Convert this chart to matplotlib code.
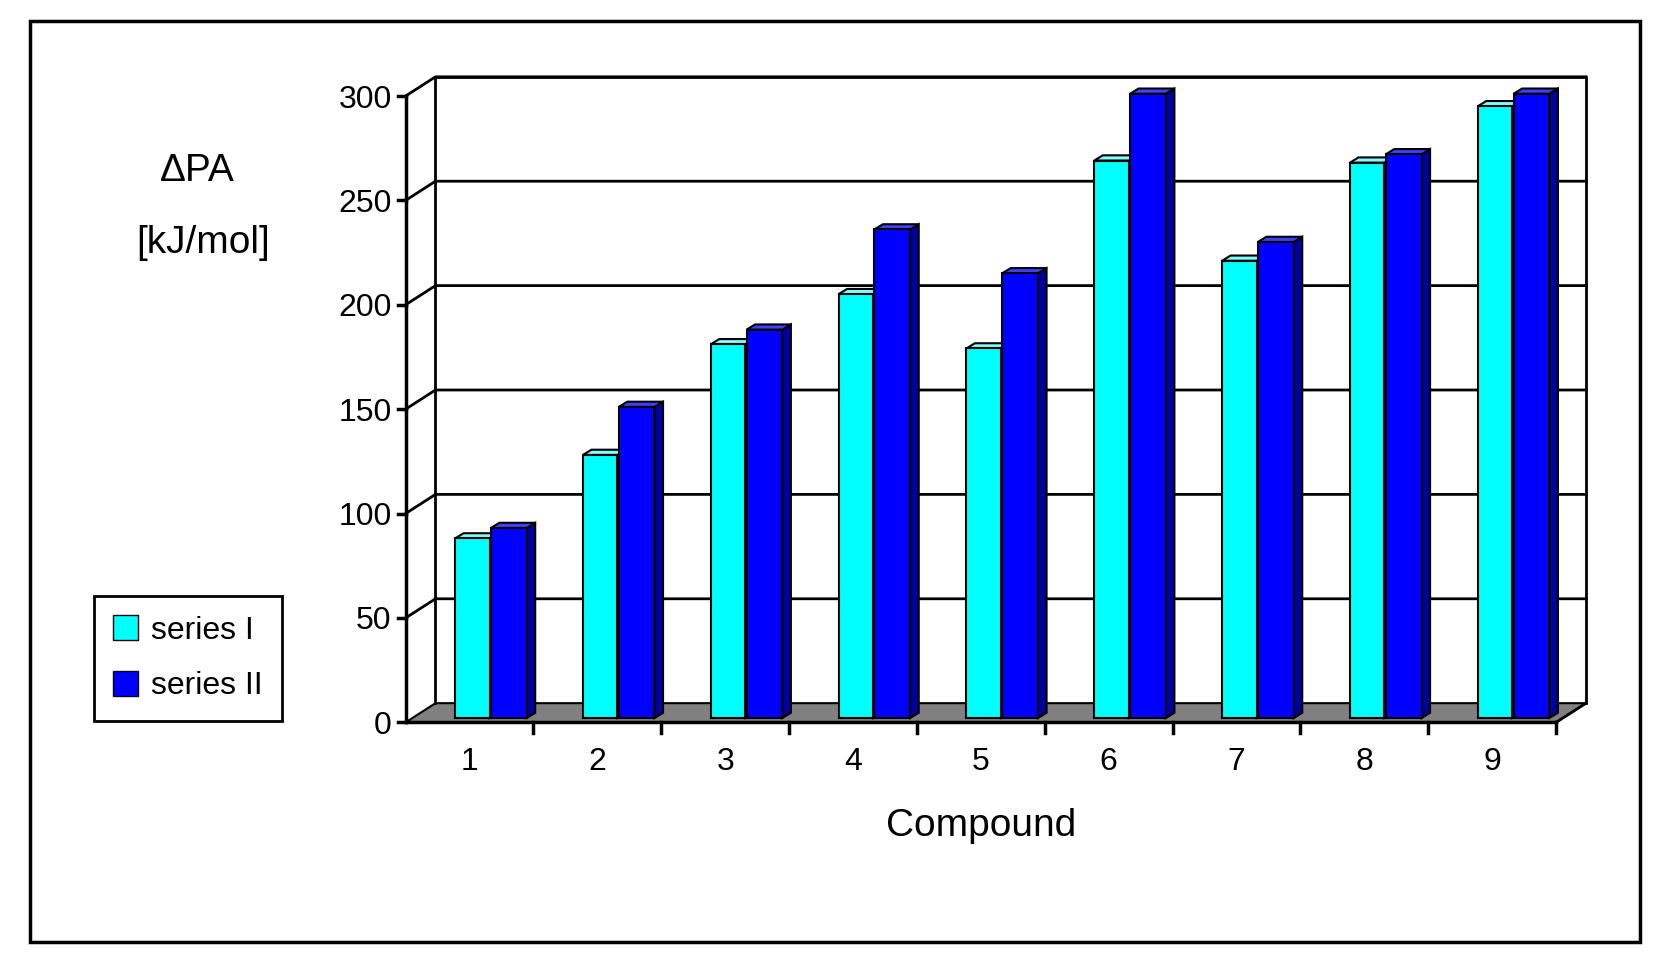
import matplotlib.pyplot as plt
from matplotlib.patches import Polygon, Rectangle, Patch

plt.rcParams['font.family'] = ['Liberation Sans', 'DejaVu Sans']

compounds = ['1', '2', '3', '4', '5', '6', '7', '8', '9']
series_1 = [86, 126, 179, 203, 177, 267, 219, 266, 293]
series_2 = [91, 149, 186, 234, 213, 299, 228, 270, 299]
yticks = [0, 50, 100, 150, 200, 250, 300]

# layout measured on a 1560x910 grid
W, H = 1560, 910
fig = plt.figure(figsize=(16.65, 9.71), dpi=100)
fig.add_artist(Rectangle((28 / W, 1 - 883 / H), 1509 / W, 863 / H, transform=fig.transFigure,
                         fill=False, lw=2.5, ec='black'))

ax = fig.add_axes([380 / W, (H - 677) / H, 1078 / W, 587 / H])
ax.set_xlim(0.5, 9.5)
ax.set_ylim(0, 300)
for s in ax.spines.values():
    s.set_visible(False)

dx, dy = 0.234, 9.2  # depth of the box in data units

def poly(pts, fc, ec='black', lw=1.5, z=2):
    ax.add_patch(Polygon(pts, closed=True, fc=fc, ec=ec, lw=lw, clip_on=False, zorder=z))

# floor and walls
poly([(0.5, 0), (9.5, 0), (9.5 + dx, dy), (0.5 + dx, dy)], '#808080', z=1)
ax.plot([0.5 + dx, 0.5 + dx, 9.5 + dx, 9.5 + dx], [dy, 300 + dy, 300 + dy, dy],
        color='black', lw=2, clip_on=False, zorder=1)
for v in yticks[1:]:
    ax.plot([0.5, 0.5 + dx, 9.5 + dx], [v, v + dy, v + dy], color='black', lw=2,
            clip_on=False, zorder=1)
ax.plot([9.5, 9.5 + dx], [0, dy], color='black', lw=2, clip_on=False, zorder=1)

# bars
bdx, bdy = 0.067, 2.5
ox, oy = dx / 2 - 0.05, dy / 2 - 2.5
specs = [(series_1, -0.18, 0.27, '#00FFFF', '#00B8B8', '#80FFFF'),
         (series_2, 0.1, 0.28, '#0000FF', '#0000A0', '#4040FF')]
for vals, off, w, fc, sc, tc in specs:
    for i, v in enumerate(vals):
        x0 = i + 1 + off + ox
        y0 = oy
        y1 = v + oy
        poly([(x0 + w, y0), (x0 + w + bdx, y0 + bdy), (x0 + w + bdx, y1 + bdy), (x0 + w, y1)], sc, z=3)
        poly([(x0, y1), (x0 + w, y1), (x0 + w + bdx, y1 + bdy), (x0 + bdx, y1 + bdy)], tc, z=3)
        poly([(x0, y0), (x0 + w, y0), (x0 + w, y1), (x0, y1)], fc, z=4)

# axes lines and ticks
ax.plot([0.5, 0.5], [0, 300], color='black', lw=2.5, clip_on=False, zorder=5)
ax.plot([0.5, 9.5], [0, 0], color='black', lw=2.5, clip_on=False, zorder=5)
ax.set_yticks(yticks)
ax.set_xticks(range(1, 10))
ax.set_xticklabels(compounds)
ax.tick_params(axis='both', labelsize=23, length=0, pad=18)
ax.tick_params(axis='y', pad=10)
for v in yticks:
    ax.plot([0.5 - 0.06, 0.5], [v, v], color='black', lw=2.5, clip_on=False, zorder=5)
for k in range(1, 10):
    ax.plot([k + 0.5, k + 0.5], [0, -5], color='black', lw=2.5, clip_on=False, zorder=5)

ax.set_xlabel('Compound', fontsize=28, labelpad=22)
fig.text(185 / W, 1 - 160 / H, '\u0394PA', fontsize=28, ha='center', va='center')
fig.text(190 / W, 1 - 228 / H, '[kJ/mol]', fontsize=28, ha='center', va='center')

handles = [Patch(fc='#00FFFF', ec='black', label='series I'),
           Patch(fc='#0000FF', ec='black', label='series II')]
leg = fig.legend(handles=handles, loc='center', bbox_to_anchor=(176 / W, 1 - 617 / H),
                 fontsize=23, fancybox=False, edgecolor='black', framealpha=1,
                 handlelength=0.8, handleheight=0.8, handletextpad=0.4, labelspacing=0.8,
                 borderpad=0.6)
leg.get_frame().set_linewidth(2)

fig.savefig('out.png', dpi=100)
